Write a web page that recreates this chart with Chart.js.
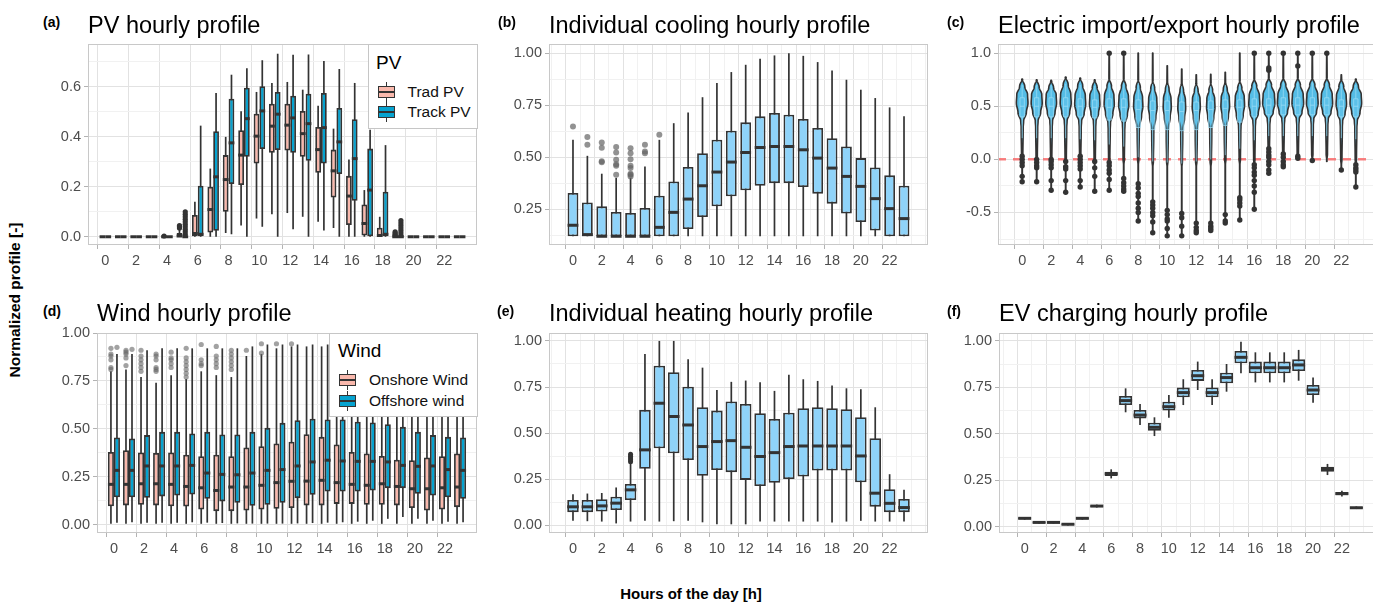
<!DOCTYPE html>
<html><head><meta charset="utf-8">
<script src="https://cdn.jsdelivr.net/npm/chart.js@4.4.1/dist/chart.umd.min.js"></script>
<style>
html,body{margin:0;padding:0;background:#fff;}
body{width:1373px;height:606px;overflow:hidden;position:relative;font-family:"Liberation Sans",Arial,Helvetica,sans-serif;}
#stage{position:absolute;left:0;top:0;width:1373px;height:606px;overflow:hidden;}
canvas{position:absolute;z-index:1;}
.tag{position:absolute;font-weight:bold;font-size:14px;line-height:14px;color:#000;white-space:nowrap;z-index:3;}
.ttl{position:absolute;font-size:23.5px;line-height:24px;color:#000;white-space:nowrap;z-index:3;}
.axt{position:absolute;font-weight:bold;font-size:15.5px;line-height:16px;color:#000;white-space:nowrap;z-index:3;}
.legend{position:absolute;background:#fff;border:1px solid #c6c6c6;box-sizing:border-box;z-index:4;}
.legend .lt{position:absolute;font-size:19px;line-height:19px;color:#000;white-space:nowrap;}
.legend .li{position:absolute;font-size:15.5px;line-height:16px;color:#111;white-space:nowrap;}
.key{position:absolute;width:17px;height:20px;}
.key .kw{position:absolute;left:7.7px;width:1.6px;top:0;bottom:0;background:#333;}
.key .kb{position:absolute;left:0;right:0;top:4px;bottom:4px;border:1.6px solid #333;box-sizing:border-box;}
.key .km{position:absolute;left:0;right:0;top:9px;height:2px;background:#333;}
</style>
</head><body>
<div id="stage">
  <div class="tag" style="left:43px;top:15px;">(a)</div>
  <div class="ttl" style="left:88px;top:12.5px;">PV hourly profile</div>
  <div class="tag" style="left:498px;top:15px;">(b)</div>
  <div class="ttl" style="left:549px;top:12.5px;">Individual cooling hourly profile</div>
  <div class="tag" style="left:947px;top:15px;">(c)</div>
  <div class="ttl" style="left:998px;top:12.5px;">Electric import/export hourly profile</div>
  <div class="tag" style="left:43px;top:304px;">(d)</div>
  <div class="ttl" style="left:97px;top:300.7px;">Wind hourly profile</div>
  <div class="tag" style="left:497px;top:304px;">(e)</div>
  <div class="ttl" style="left:549px;top:300.7px;">Individual heating hourly profile</div>
  <div class="tag" style="left:947px;top:304px;">(f)</div>
  <div class="ttl" style="left:999px;top:300.7px;">EV charging hourly profile</div>
  <div class="axt" style="left:15px;top:300px;transform:translate(-50%,-50%) rotate(-90deg);">Normalized profile [-]</div>
  <div class="axt" style="left:691px;top:594px;font-size:15px;transform:translate(-50%,-50%);">Hours of the day [h]</div>

  <div class="legend" style="left:368px;top:44px;width:110px;height:85px;">
    <div class="lt" style="left:7px;top:8px;">PV</div>
    <div class="key" style="left:9px;top:37px;"><i class="kw"></i><i class="kb" style="background:#F9B8AC"></i><i class="km"></i></div>
    <div class="li" style="left:38.5px;top:38.5px;">Trad PV</div>
    <div class="key" style="left:9px;top:57px;"><i class="kw"></i><i class="kb" style="background:#06A3D0"></i><i class="km"></i></div>
    <div class="li" style="left:38.5px;top:59px;">Track PV</div>
  </div>
  <div class="legend" style="left:329px;top:333px;width:149px;height:84px;">
    <div class="lt" style="left:8px;top:6.5px;">Wind</div>
    <div class="key" style="left:9px;top:36px;"><i class="kw"></i><i class="kb" style="background:#F9B8AC"></i><i class="km"></i></div>
    <div class="li" style="left:39px;top:38px;">Onshore Wind</div>
    <div class="key" style="left:9px;top:57px;"><i class="kw"></i><i class="kb" style="background:#06A3D0"></i><i class="km"></i></div>
    <div class="li" style="left:39px;top:59px;">Offshore wind</div>
  </div>
</div>
<script>
// ---------------- DATA ----------------
const HOURS = [0,1,2,3,4,5,6,7,8,9,10,11,12,13,14,15,16,17,18,19,20,21,22,23];
const X_TICK_LABELS = [0,2,4,6,8,10,12,14,16,18,20,22];

// (a) PV
const tradLo  = [0,0,0,0,0,0,0,0,0.015,0.045,0.073,0.09,0.095,0.08,0.06,0.035,0,0,0,0,0,0,0,0];
const tradQ1  = [0,0,0,0,0,0,0,0.017,0.10,0.207,0.293,0.336,0.345,0.32,0.256,0.157,0.047,0.005,0,0,0,0,0,0];
const tradMed = [0,0,0,0,0,0.003,0.013,0.109,0.229,0.327,0.403,0.443,0.447,0.413,0.349,0.264,0.163,0.053,0.005,0,0,0,0,0];
const tradQ3  = [0,0,0,0,0,0.015,0.087,0.20,0.327,0.427,0.493,0.533,0.533,0.504,0.44,0.349,0.244,0.129,0.036,0,0,0,0,0];
const tradHi  = [0,0,0,0,0,0.03,0.14,0.273,0.40,0.503,0.58,0.616,0.62,0.589,0.525,0.433,0.309,0.187,0.08,0,0,0,0,0];
const trackLo  = [0,0,0,0,0,0,0,0,0.01,0,0.04,0,0.03,0,0.025,0,0,0,0,0,0,0,0,0];
const trackQ1  = [0,0,0,0,0,0,0,0.024,0.211,0.32,0.351,0.347,0.336,0.304,0.293,0.251,0.144,0,0,0,0,0,0,0];
const trackMed = [0,0,0,0,0,0,0.01,0.24,0.376,0.473,0.504,0.491,0.476,0.453,0.437,0.38,0.313,0.187,0.01,0,0,0,0,0];
const trackQ3  = [0,0,0,0,0,0,0.204,0.423,0.553,0.597,0.603,0.58,0.565,0.573,0.576,0.516,0.471,0.353,0.18,0,0,0,0,0];
const trackHi  = [0,0,0,0,0,0,0.445,0.576,0.649,0.675,0.707,0.733,0.729,0.73,0.704,0.672,0.616,0.429,0.367,0,0,0,0,0];
const tradOutliers  = [[4,0.003],[5,0.035],[5,0.04],[5,0.045],[19,0.005],[19,0.01],[19,0.015],[19,0.02]];
const trackOutliers = [[5,0.01],[5,0.02],[5,0.03],[5,0.04],[5,0.05],[5,0.06],[5,0.07],[5,0.08],[5,0.09],[5,0.10],
                       [19,0.005],[19,0.015],[19,0.025],[19,0.035],[19,0.045],[19,0.055],[19,0.065]];

// (b) cooling
const coolLo  = [0.119,0.119,0.119,0.119,0.119,0.119,0.119,0.119,0.119,0.119,0.119,0.119,0.119,0.119,0.119,0.119,0.119,0.119,0.119,0.119,0.119,0.119,0.119,0.119];
const coolQ1  = [0.119,0.119,0.119,0.119,0.119,0.119,0.119,0.119,0.154,0.212,0.263,0.311,0.34,0.362,0.375,0.375,0.356,0.324,0.276,0.228,0.188,0.147,0.119,0.119];
const coolMed = [0.172,0.127,0.119,0.119,0.119,0.119,0.162,0.234,0.298,0.362,0.428,0.476,0.522,0.546,0.551,0.551,0.535,0.495,0.447,0.407,0.359,0.30,0.252,0.204];
const coolQ3  = [0.327,0.282,0.263,0.236,0.231,0.255,0.314,0.383,0.452,0.519,0.583,0.627,0.667,0.696,0.712,0.704,0.683,0.64,0.591,0.551,0.495,0.45,0.412,0.362];
const coolHi  = [0.583,0.506,0.42,0.40,0.40,0.455,0.583,0.663,0.715,0.788,0.856,0.909,0.944,0.973,0.989,1.0,0.987,0.957,0.917,0.872,0.824,0.784,0.739,0.696];
const coolOutliers = [[0,0.647],[1,0.559],[1,0.596],[2,0.475],[2,0.48],[2,0.545],[2,0.57],
  [3,0.415],[3,0.458],[3,0.465],[3,0.487],[3,0.522],[3,0.548],
  [4,0.407],[4,0.415],[4,0.42],[4,0.447],[4,0.458],[4,0.49],[4,0.519],[4,0.543],
  [5,0.519],[5,0.527],[5,0.559],[6,0.607]];

// (c) electric import/export (violins)
const vMax  = [0.756,0.75,0.744,0.775,0.766,0.75,1.0,1.0,1.0,1.0,0.881,0.85,0.797,0.80,0.82,1.0,1.0,1.0,1.0,1.0,1.0,1.0,0.797,0.756];
const vBody = [0.756,0.75,0.744,0.775,0.766,0.75,0.76,0.76,0.75,0.74,0.73,0.72,0.72,0.72,0.73,0.74,0.76,0.77,0.77,0.77,0.77,0.77,0.76,0.756];
const vPeak = [0.53,0.53,0.53,0.53,0.52,0.52,0.52,0.51,0.50,0.49,0.49,0.48,0.49,0.49,0.50,0.51,0.52,0.53,0.53,0.53,0.53,0.53,0.52,0.53];
const vPW   = [0.40,0.38,0.37,0.38,0.38,0.36,0.35,0.35,0.32,0.30,0.28,0.27,0.28,0.29,0.30,0.33,0.38,0.42,0.40,0.40,0.40,0.40,0.36,0.40];
const vNeck = [0.30,0.30,0.30,0.30,0.30,0.30,0.28,0.27,0.24,0.22,0.22,0.22,0.22,0.23,0.24,0.25,0.30,0.32,0.32,0.32,0.32,0.32,0.30,0.30];
const vTail = [0.02,0.02,0.0,0.0,0.02,0.0,0.0,0.0,0.0,-0.02,-0.02,-0.02,-0.02,-0.02,0.0,0.0,0.0,0.05,0.05,0.05,0.05,0.05,0.0,0.0];
const vMin  = [-0.213,-0.21,-0.288,-0.313,-0.266,-0.297,-0.29,-0.29,-0.578,-0.688,-0.719,-0.72,-0.694,-0.672,-0.603,-0.578,-0.469,-0.131,-0.072,0.006,-0.016,-0.02,-0.1,-0.259];
const iLo  = [0.20,0.20,0.20,0.20,0.19,0.18,0.14,0.12,0.02,-0.02,-0.03,-0.04,-0.02,0.0,0.04,0.10,0.18,0.22,0.22,0.22,0.22,0.22,0.20,0.19];
const iQ1  = [0.40,0.40,0.40,0.40,0.40,0.39,0.37,0.36,0.30,0.28,0.28,0.27,0.28,0.30,0.32,0.35,0.40,0.42,0.42,0.42,0.42,0.42,0.40,0.40];
const iMed = [0.50,0.50,0.50,0.50,0.50,0.49,0.49,0.49,0.47,0.46,0.46,0.45,0.46,0.47,0.48,0.49,0.50,0.51,0.51,0.51,0.51,0.51,0.50,0.50];
const iQ3  = [0.58,0.58,0.58,0.58,0.57,0.56,0.57,0.57,0.56,0.55,0.55,0.54,0.54,0.55,0.56,0.56,0.57,0.57,0.58,0.58,0.58,0.58,0.56,0.57];
const iHi  = [0.70,0.70,0.70,0.71,0.70,0.69,0.72,0.72,0.72,0.71,0.70,0.69,0.69,0.69,0.70,0.71,0.72,0.73,0.73,0.73,0.73,0.73,0.71,0.70];
const elecOutliers = [
  [0.03,0.0,-0.03,-0.06,-0.16,-0.21],
  [0.0,-0.03,-0.06,-0.08,-0.21],
  [0.0,-0.02,-0.05,-0.08,-0.2,-0.29],
  [-0.02,-0.07,-0.09,-0.2,-0.31],
  [0.03,0.0,-0.03,-0.06,-0.09,-0.2,-0.26],
  [-0.02,-0.08,-0.16,-0.3],
  [1.0,-0.03,-0.06,-0.1,-0.13,-0.19,-0.29],
  [1.0,-0.18,-0.22,-0.25,-0.28,-0.3],
  [-0.23,-0.27,-0.32,-0.35,-0.41,-0.46,-0.5,-0.58],
  [-0.4,-0.43,-0.46,-0.5,-0.53,-0.59,-0.69],
  [-0.48,-0.52,-0.56,-0.58,-0.65,-0.72],
  [-0.51,-0.55,-0.63,-0.72],
  [-0.6,-0.64,-0.67,-0.69],
  [-0.6,-0.63,-0.65,-0.67],
  [-0.52,-0.58,-0.6],
  [-0.36,-0.38,-0.41,-0.44,-0.57],
  [1.0,-0.05,-0.08,-0.12,-0.15,-0.2,-0.25,-0.31,-0.47],
  [1.0,0.86,0.84,0.1,0.07,0.04,0.02,-0.02,-0.05,-0.1,-0.13],
  [1.0,0.05,0.02,-0.02,-0.05,-0.07],
  [1.0,0.88,0.03,0.01],
  [1.0,-0.01],
  [1.0],
  [-0.1],
  [-0.05,-0.08,-0.1,-0.12,-0.26]
];

// (d) wind
const onLo  = [0.004,0.004,0.004,0.004,0.004,0.004,0.004,0.004,0.004,0.004,0.004,0.004,0.004,0.004,0.004,0.004,0.004,0.004,0.004,0.004,0.004,0.004,0.004,0.004];
const onQ1  = [0.096,0.10,0.103,0.10,0.096,0.094,0.079,0.07,0.07,0.073,0.079,0.082,0.086,0.10,0.10,0.108,0.108,0.103,0.103,0.10,0.086,0.073,0.079,0.091];
const onMed = [0.21,0.21,0.213,0.213,0.21,0.199,0.192,0.178,0.196,0.196,0.205,0.219,0.226,0.227,0.231,0.219,0.21,0.205,0.213,0.199,0.187,0.187,0.192,0.196];
const onQ3  = [0.379,0.388,0.376,0.374,0.376,0.365,0.357,0.365,0.357,0.402,0.409,0.423,0.432,0.472,0.458,0.418,0.379,0.371,0.358,0.339,0.336,0.35,0.357,0.371];
const onHi  = [0.80,0.81,0.77,0.74,0.78,0.76,0.80,0.78,0.77,0.88,0.89,0.92,0.93,0.93,0.93,0.92,0.90,0.88,0.85,0.82,0.82,0.85,0.83,0.85];
const offLo  = [0.01,0.012,0.01,0.01,0.01,0.012,0.01,0.008,0.006,0.005,0.005,0.005,0.006,0.008,0.01,0.012,0.015,0.02,0.03,0.04,0.03,0.02,0.015,0.012];
const offQ1  = [0.143,0.143,0.14,0.147,0.152,0.157,0.135,0.121,0.114,0.098,0.103,0.114,0.138,0.156,0.173,0.173,0.173,0.178,0.19,0.19,0.161,0.152,0.143,0.135];
const offMed = [0.283,0.283,0.306,0.306,0.306,0.309,0.269,0.262,0.26,0.269,0.283,0.287,0.306,0.327,0.336,0.332,0.33,0.33,0.327,0.309,0.304,0.306,0.287,0.283];
const offQ3  = [0.455,0.449,0.467,0.484,0.484,0.476,0.484,0.47,0.47,0.484,0.505,0.531,0.545,0.552,0.549,0.549,0.537,0.533,0.524,0.51,0.484,0.467,0.458,0.455];
const offHi  = [0.89,0.89,0.91,0.92,0.92,0.92,0.92,0.92,0.92,0.93,0.94,0.94,0.94,0.94,0.94,0.93,0.93,0.93,0.93,0.93,0.92,0.92,0.91,0.90];
const onOutliers = [[0,0.81],[0,0.82],[0,0.86],[0,0.88],[0,0.89],[0,0.92],
  [1,0.83],[1,0.87],[1,0.89],[1,0.90],[1,0.91],
  [2,0.80],[2,0.82],[2,0.84],[2,0.86],[2,0.88],[2,0.91],
  [3,0.80],[3,0.81],[3,0.82],[3,0.86],[3,0.88],[3,0.89],
  [4,0.82],[4,0.84],[4,0.86],[4,0.87],[4,0.90],
  [5,0.77],[5,0.79],[5,0.81],[5,0.83],[5,0.85],[5,0.87],[5,0.92],
  [6,0.83],[6,0.84],[6,0.86],[6,0.94],
  [7,0.82],[7,0.84],[7,0.86],[7,0.88],[7,0.93],
  [8,0.81],[8,0.83],[8,0.85],[8,0.87],[8,0.89],[8,0.91],
  [9,0.91],[10,0.895],[10,0.944],[11,0.944],[12,0.944]];
const offOutliers = [[0,0.925],[1,0.915]];

// (e) heating
const heatLo  = [0.024,0.022,0.02,0.01,0.02,0.024,0.02,0.022,0.025,0.016,0.005,0.005,0.005,0.02,0.02,0.02,0.02,0.02,0.015,0.02,0.024,0.02,0.02,0.02];
const heatQ1  = [0.071,0.071,0.074,0.083,0.137,0.306,0.418,0.39,0.354,0.268,0.30,0.288,0.246,0.213,0.231,0.251,0.264,0.297,0.297,0.297,0.233,0.101,0.071,0.071];
const heatMed = [0.10,0.10,0.105,0.12,0.192,0.409,0.662,0.59,0.544,0.427,0.454,0.459,0.423,0.373,0.394,0.427,0.43,0.43,0.43,0.43,0.376,0.174,0.119,0.096];
const heatQ3  = [0.137,0.137,0.141,0.155,0.224,0.626,0.866,0.83,0.752,0.64,0.622,0.671,0.658,0.608,0.577,0.611,0.635,0.64,0.635,0.629,0.586,0.472,0.195,0.143];
const heatHi  = [0.168,0.172,0.175,0.205,0.336,0.929,1.0,1.0,0.90,0.855,0.734,0.778,0.785,0.776,0.729,0.816,0.792,0.783,0.758,0.743,0.738,0.64,0.277,0.192];
const heatOutliers = [[4,0.345],[4,0.355],[4,0.365],[4,0.375],[4,0.385]];

// (f) EV charging
const evLo  = [0.038,0.017,0.017,0.007,0.038,0.103,0.26,0.616,0.548,0.488,0.587,0.655,0.736,0.655,0.727,0.826,0.777,0.777,0.777,0.786,0.668,0.278,0.162,0.095];
const evQ1  = [0.04,0.019,0.019,0.009,0.04,0.106,0.273,0.655,0.583,0.517,0.625,0.697,0.785,0.697,0.772,0.88,0.826,0.826,0.826,0.838,0.709,0.296,0.169,0.097];
const evMed = [0.045,0.023,0.023,0.013,0.045,0.111,0.285,0.679,0.601,0.535,0.646,0.722,0.813,0.722,0.803,0.912,0.856,0.856,0.856,0.871,0.736,0.309,0.178,0.102];
const evQ3  = [0.05,0.027,0.027,0.017,0.05,0.116,0.296,0.704,0.628,0.56,0.673,0.749,0.844,0.75,0.829,0.946,0.889,0.889,0.889,0.901,0.763,0.323,0.187,0.106];
const evHi  = [0.052,0.029,0.029,0.019,0.052,0.119,0.309,0.745,0.661,0.589,0.709,0.794,0.889,0.794,0.876,0.996,0.939,0.939,0.939,0.952,0.804,0.338,0.194,0.109];

// ---------------- STYLE ----------------
const FONT = '"Liberation Sans", Arial, Helvetica, sans-serif';
const PINK = '#F9B8AC', BLUE = '#06A3D0', SKY = '#8FD3F9', VIOLIN = '#55BDE6', OUT = '#333333';
const GRID_MAJOR = '#e2e2e2', GRID_MINOR = '#f1f1f1', TICK_COL = '#b3b3b3', NONE = 'rgba(0,0,0,0)';
Chart.defaults.font.family = FONT;

function isMult(v, step){ const r = v/step; return Math.abs(r - Math.round(r)) < 1e-6; }
function isXMajor(v){ return X_TICK_LABELS.some(t => Math.abs(t - v) < 1e-6); }

function xAxis(min, max, discrete, xh){
  return {
    type:'linear', min, max,
    ticks:{stepSize:1, includeBounds:false, autoSkip:false, maxRotation:0, minRotation:0, padding:3,
      color:'#4d4d4d', font:{family:FONT, size:14.5},
      callback:(v)=> isXMajor(v) ? String(Math.round(v)) : ''},
    grid:{
      color:(c)=>{ const v = c.tick ? c.tick.value : NaN; if (isXMajor(v)) return GRID_MAJOR; return discrete ? NONE : GRID_MINOR; },
      tickColor:(c)=>{ const v = c.tick ? c.tick.value : NaN; return isXMajor(v) ? TICK_COL : NONE; },
      tickLength:4, lineWidth:1},
    border:{display:false},
    afterFit:(s)=>{ s.height = xh; }
  };
}
function yAxis(min, max, step, major, dec, yw){
  return {
    type:'linear', min, max,
    ticks:{stepSize:step, includeBounds:false, padding:3, color:'#4d4d4d', font:{family:FONT, size:14.5},
      callback:(v)=> isMult(v, major) ? Number(v).toFixed(dec) : ''},
    grid:{
      color:(c)=>{ const v = c.tick ? c.tick.value : NaN; return isMult(v, major) ? GRID_MAJOR : GRID_MINOR; },
      tickColor:(c)=>{ const v = c.tick ? c.tick.value : NaN; return isMult(v, major) ? TICK_COL : NONE; },
      tickLength:4, lineWidth:1},
    border:{display:false},
    afterFit:(s)=>{ s.width = yw; }
  };
}

// whiskers behind boxes, medians after boxes
const boxPlugin = {
  id:'boxExtras',
  beforeDatasetsDraw(chart){
    const ctx = chart.ctx, ys = chart.scales.y;
    chart.data.datasets.forEach((ds, di)=>{
      if (!ds.whiskerLo) return;
      const meta = chart.getDatasetMeta(di);
      ctx.save();
      ctx.strokeStyle = OUT; ctx.lineWidth = 1.7;
      meta.data.forEach((el, i)=>{
        const lo = ds.whiskerLo[i], hi = ds.whiskerHi[i];
        if (hi - lo < 1e-9) return;
        ctx.beginPath();
        ctx.moveTo(el.x, ys.getPixelForValue(lo));
        ctx.lineTo(el.x, ys.getPixelForValue(hi));
        ctx.stroke();
      });
      ctx.restore();
    });
  },
  afterDatasetDraw(chart, args){
    const ds = chart.data.datasets[args.index];
    if (!ds.medians) return;
    const ctx = chart.ctx, ys = chart.scales.y;
    ctx.save();
    ctx.strokeStyle = OUT; ctx.lineWidth = ds.medianWidth || 3;
    args.meta.data.forEach((el, i)=>{
      const y = ys.getPixelForValue(ds.medians[i]);
      const hw = el.width / 2;
      ctx.beginPath(); ctx.moveTo(el.x - hw, y); ctx.lineTo(el.x + hw, y); ctx.stroke();
    });
    ctx.restore();
  }
};
const borderPlugin = {
  id:'panelBorder',
  afterDraw(chart){
    const a = chart.chartArea, ctx = chart.ctx;
    ctx.save(); ctx.strokeStyle = '#c8c8c8'; ctx.lineWidth = 1;
    ctx.strokeRect(Math.round(a.left)+0.5, Math.round(a.top)+0.5, Math.round(a.right-a.left)-1, Math.round(a.bottom-a.top)-1);
    ctx.restore();
  }
};

// violin outlines for panel (c)
function violinCtrl(i){
  const pw = vPW[i];
  const top = Math.min(vBody[i], vMax[i]);
  let pts = [[top, 0.02],[top-0.07, pw*0.45],[vPeak[i]+0.08, pw*0.93],[vPeak[i], pw],
             [vPeak[i]-0.09, pw*0.72],[vNeck[i]+0.06, pw*0.25],[vNeck[i], 0.07],[vTail[i], 0.045],[vTail[i]-0.05, 0.012]];
  pts = pts.filter(p => p[0] > vMin[i] + 0.004);
  const out = [[vMax[i], 0.012]];
  pts.forEach(p => { if (p[0] < out[out.length-1][0] - 1e-6) out.push(p); else if (out.length === 1) out[0] = [vMax[i], p[1]]; });
  out.push([vMin[i], 0.012]);
  return out;
}
function halfW(ctrl, v){
  for (let k = 0; k < ctrl.length - 1; k++){
    const a = ctrl[k], b = ctrl[k+1];
    if (v <= a[0] && v >= b[0]){
      const t = (a[0] - v) / (a[0] - b[0] || 1);
      const s = (1 - Math.cos(Math.PI * t)) / 2;
      return a[1] + (b[1] - a[1]) * s;
    }
  }
  return 0.012;
}
const violinPlugin = {
  id:'violins',
  beforeDatasetsDraw(chart){
    const ctx = chart.ctx, a = chart.chartArea, xs = chart.scales.x, ys = chart.scales.y;
    ctx.save();
    ctx.beginPath(); ctx.rect(a.left, a.top, a.right - a.left, a.bottom - a.top); ctx.clip();
    const y0 = ys.getPixelForValue(0);
    ctx.setLineDash([8,7]); ctx.strokeStyle = 'rgba(250,90,90,0.75)'; ctx.lineWidth = 2.5;
    ctx.beginPath(); ctx.moveTo(a.left, y0); ctx.lineTo(a.right, y0); ctx.stroke();
    ctx.setLineDash([]);
    const unit = Math.abs(xs.getPixelForValue(1) - xs.getPixelForValue(0));
    HOURS.forEach((h, i)=>{
      const cx = xs.getPixelForValue(h);
      const ctrl = violinCtrl(i);
      const pyTop = ys.getPixelForValue(vMax[i]), pyBot = ys.getPixelForValue(vMin[i]);
      const right = [];
      for (let py = pyTop; py <= pyBot; py += 0.5){
        right.push([py, halfW(ctrl, ys.getValueForPixel(py)) * unit]);
      }
      right.push([pyBot, halfW(ctrl, vMin[i]) * unit]);
      ctx.beginPath();
      right.forEach((p, k)=>{ if (k === 0) ctx.moveTo(cx + p[1], p[0]); else ctx.lineTo(cx + p[1], p[0]); });
      for (let k = right.length - 1; k >= 0; k--) ctx.lineTo(cx - right[k][1], right[k][0]);
      ctx.closePath();
      ctx.fillStyle = VIOLIN; ctx.fill();
      ctx.strokeStyle = OUT; ctx.lineWidth = 1.6; ctx.lineJoin = 'round'; ctx.stroke();
      // inner boxplot (subtle)
      const bw = 0.15 * unit;
      ctx.strokeStyle = 'rgba(160,222,246,0.7)'; ctx.lineWidth = 1;
      ctx.beginPath();
      ctx.moveTo(cx, ys.getPixelForValue(iHi[i]));
      ctx.lineTo(cx, ys.getPixelForValue(iQ3[i]));
      ctx.moveTo(cx, ys.getPixelForValue(iQ1[i]));
      ctx.lineTo(cx, ys.getPixelForValue(Math.max(iLo[i], vMin[i])));
      ctx.stroke();
      const yq3 = ys.getPixelForValue(iQ3[i]), yq1 = ys.getPixelForValue(iQ1[i]);
      ctx.fillStyle = 'rgba(110,200,238,0.35)';
      ctx.fillRect(cx - bw, yq3, 2*bw, yq1 - yq3);
      ctx.strokeRect(cx - bw, yq3, 2*bw, yq1 - yq3);
      const ym = ys.getPixelForValue(iMed[i]);
      ctx.beginPath(); ctx.moveTo(cx - bw, ym); ctx.lineTo(cx + bw, ym); ctx.stroke();
    });
    ctx.restore();
  }
};

// ---------------- CHART BUILDER ----------------
function makeChart(g, datasets, extra){
  const PT = 14, PR = 14, XH = 40;
  const c = document.createElement('canvas');
  const w = (g.right - g.left) + g.yw + PR, h = (g.bottom - g.top) + PT + XH;
  c.width = w; c.height = h;
  c.style.left = (g.left - g.yw) + 'px'; c.style.top = (g.top - PT) + 'px';
  c.style.width = w + 'px'; c.style.height = h + 'px';
  document.getElementById('stage').appendChild(c);
  return new Chart(c.getContext('2d'), {
    type:'bar',
    data:{datasets},
    options:{
      responsive:false, animation:false, devicePixelRatio:1,
      layout:{padding:{top:PT, right:PR, left:0, bottom:0}},
      plugins:{legend:{display:false}, tooltip:{enabled:false}},
      scales:{ x:xAxis(g.xmin, g.xmax, g.discrete, XH), y:yAxis(g.ymin, g.ymax, g.ystep, g.ymajor, g.ydec, g.yw) }
    },
    plugins:[boxPlugin, borderPlugin].concat(extra || [])
  });
}
function boxDS(label, q1, q3, lo, hi, med, color, catPct){
  return {type:'bar', label, data:HOURS.map((h,i)=>({x:h, y:[q1[i], q3[i]]})),
    backgroundColor:color, borderColor:OUT, borderWidth:1.8, borderSkipped:false,
    categoryPercentage:catPct, barPercentage:1, grouped:true, order:2,
    whiskerLo:lo, whiskerHi:hi, medians:med, medianWidth:3};
}
function outDS(label, pairs, offset, color, r){
  return {type:'scatter', label, data:pairs.map(p=>({x:p[0]+offset, y:p[1]})),
    pointRadius:r, pointHoverRadius:r, pointBackgroundColor:color, pointBorderWidth:0, showLine:false, order:1};
}
const DODGE_A = 0.1875, DODGE_D = 0.2;

// (a)
makeChart({left:88, top:44, right:477, bottom:245, yw:50, xmin:-0.6, xmax:23.6, discrete:true,
           ymin:-0.033, ymax:0.772, ystep:0.1, ymajor:0.2, ydec:1},
  [outDS('Trad PV outliers', tradOutliers, -DODGE_A, OUT, 2.6),
   outDS('Track PV outliers', trackOutliers, DODGE_A, OUT, 2.6),
   boxDS('Trad PV', tradQ1, tradQ3, tradLo, tradHi, tradMed, PINK, 0.75),
   boxDS('Track PV', trackQ1, trackQ3, trackLo, trackHi, trackMed, BLUE, 0.75)]);

// (b)
makeChart({left:549, top:44, right:928, bottom:245, yw:50, xmin:-1.16, xmax:24.16, discrete:false,
           ymin:0.077, ymax:1.044, ystep:0.125, ymajor:0.25, ydec:2},
  [outDS('Cooling outliers', coolOutliers, 0, 'rgba(100,100,100,0.7)', 3),
   boxDS('Individual cooling', coolQ1, coolQ3, coolLo, coolHi, coolMed, SKY, 0.75)]);

// (c)
const elecPairs = [];
elecOutliers.forEach((arr, h)=> arr.forEach(v => elecPairs.push([h, v])));
makeChart({left:998, top:44, right:1380, bottom:245, yw:50, xmin:-1.16, xmax:24.16, discrete:false,
           ymin:-0.806, ymax:1.086, ystep:0.25, ymajor:0.5, ydec:1},
  [outDS('Electric outliers', elecPairs, 0, OUT, 2.7)], [violinPlugin]);

// (d)
makeChart({left:97, top:333, right:477, bottom:533, yw:55, xmin:-0.6, xmax:23.6, discrete:true,
           ymin:-0.044, ymax:1.0, ystep:0.125, ymajor:0.25, ydec:2},
  [outDS('Onshore outliers', onOutliers, -DODGE_D, 'rgba(100,100,100,0.6)', 2.6),
   outDS('Offshore outliers', offOutliers, DODGE_D, 'rgba(100,100,100,0.6)', 2.6),
   boxDS('Onshore Wind', onQ1, onQ3, onLo, onHi, onMed, PINK, 0.8),
   boxDS('Offshore wind', offQ1, offQ3, offLo, offHi, offMed, BLUE, 0.8)]);

// (e)
makeChart({left:549, top:333, right:928, bottom:533, yw:50, xmin:-1.16, xmax:24.16, discrete:false,
           ymin:-0.042, ymax:1.043, ystep:0.125, ymajor:0.25, ydec:2},
  [outDS('Heating outliers', heatOutliers, 0, OUT, 2.5),
   boxDS('Individual heating', heatQ1, heatQ3, heatLo, heatHi, heatMed, SKY, 0.8)]);

// (f)
makeChart({left:999, top:333, right:1382, bottom:533, yw:50, xmin:-1.27, xmax:24.27, discrete:false,
           ymin:-0.034, ymax:1.043, ystep:0.125, ymajor:0.25, ydec:2},
  [boxDS('EV charging', evQ1, evQ3, evLo, evHi, evMed, SKY, 0.9)]);
</script>
</body></html>
